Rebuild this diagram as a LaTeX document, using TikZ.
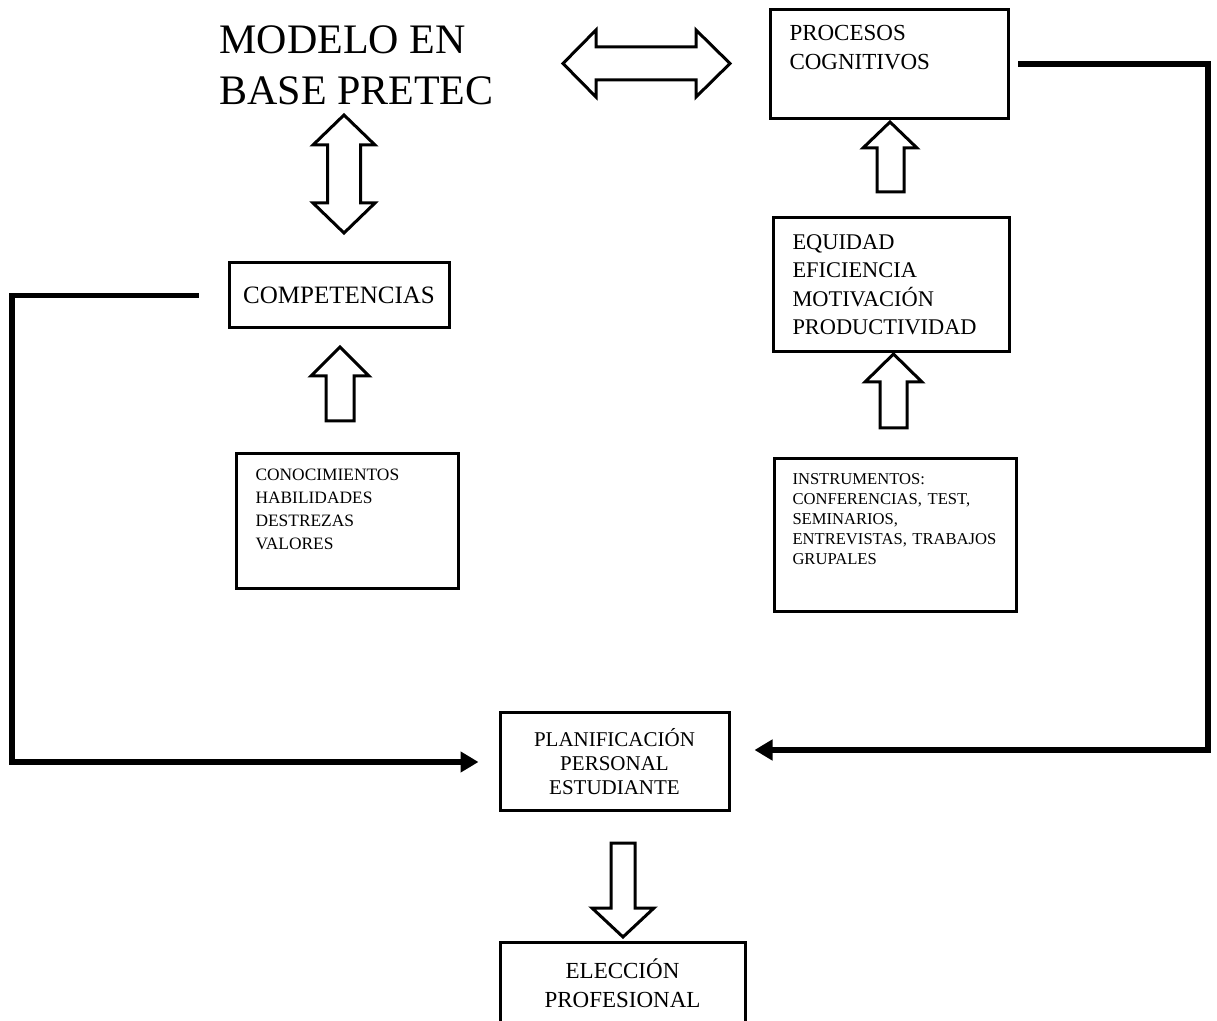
\documentclass[tikz,border=0pt]{standalone}
\usepackage{fontspec}
\setmainfont{Liberation Serif}
\usetikzlibrary{arrows.meta}

\tikzset{
	box/.style={draw, line width=1.5pt, inner sep=0pt},
	hollow/.style={draw, fill=white, line width=1.5pt, miter limit=10},
	link/.style={line width=2.8pt, -{Triangle[length=9pt,width=10pt]}},
}

\begin{document}
\begin{tikzpicture}[x=0.5pt, y=-0.5pt]
	\useasboundingbox (0,0) rectangle (1217,1021);
	\clip (0,0) rectangle (1217,1021);

	\node[anchor=north west, inner sep=0pt, align=left, font=\fontsize{21}{25.5}\selectfont] (modelo) at (219,25) {MODELO EN\\BASE PRETEC};

	\node[box, anchor=north west, align=left, text width=100pt, inner xsep=9.5pt, text height=15.5pt, text depth=39pt, font=\fontsize{11.5}{14.5}\selectfont] (procesos) at (769,8) {PROCESOS\\COGNITIVOS};
	\node[box, anchor=north west, align=left, text width=99pt, inner xsep=9.5pt, text height=16pt, text depth=51pt, font=\fontsize{11.2}{14.25}\selectfont] (equidad) at (772,216) {EQUIDAD\\EFICIENCIA\\MOTIVACIÓN\\PRODUCTIVIDAD};
	\node[box, anchor=north west, align=left, text width=103pt, inner xsep=9pt, text height=13pt, text depth=63.5pt, font=\fontsize{8.3}{10}\selectfont] (instrumentos) at (773,457) {INSTRUMENTOS:\\CONFERENCIAS, TEST,\\SEMINARIOS,\\ENTREVISTAS, TRABAJOS\\GRUPALES};
	\node[box, minimum width=110pt, minimum height=32.5pt, font=\fontsize{12.5}{15}\selectfont] (competencias) at (339,295.5) {COMPETENCIAS};
	\node[box, anchor=north west, align=left, text width=92pt, inner xsep=9.5pt, text height=13.5pt, text depth=54pt, font=\fontsize{8.7}{11.5}\selectfont] (conocimientos) at (235,452) {CONOCIMIENTOS\\HABILIDADES\\DESTREZAS\\VALORES};
	\node[box, minimum width=114.5pt, minimum height=49pt, align=center, font=\fontsize{10.5}{12}\selectfont] (planificacion) at (614.5,762) {PLANIFICACIÓN\\PERSONAL\\ESTUDIANTE};
	\node[box, minimum width=122.5pt, minimum height=41pt, align=center, font=\fontsize{11.5}{14.5}\selectfont] (eleccion) at (622.5,983) {ELECCIÓN\\PROFESIONAL};

	\coordinate (rcorner) at (1208,750);
	\coordinate (lcorner) at (12,762);
	\draw[link] ([xshift=4pt]procesos.east) -| (rcorner) -- ([xshift=12pt,yshift=6pt]planificacion.east);
	\draw[link] ([xshift=-14.5pt]competencias.west) -| (lcorner) -- ([xshift=-10pt]planificacion.west);

	\draw[hollow] (563,63.5) -- (596,30) -- (596,47) -- (696,47) -- (696,30) -- (730,63.5) -- (696,97) -- (696,80) -- (596,80) -- (596,97) -- cycle;
	\draw[hollow] (344,115) -- (375,145) -- (360.5,145) -- (360.5,203) -- (375,203) -- (344,233) -- (313,203) -- (327.5,203) -- (327.5,145) -- (313,145) -- cycle;
	\draw[hollow] (340,347) -- (369,376) -- (354,376) -- (354,421) -- (326,421) -- (326,376) -- (311,376) -- cycle;
	\draw[hollow] (890,122) -- (917,148) -- (904,148) -- (904,192) -- (877,192) -- (877,148) -- (863,148) -- cycle;
	\draw[hollow] (893.5,354) -- (922,382) -- (907,382) -- (907,428) -- (880,428) -- (880,382) -- (865,382) -- cycle;
	\draw[hollow] (611,843) -- (635,843) -- (635,908) -- (654,908) -- (623,937) -- (592,908) -- (611,908) -- cycle;
\end{tikzpicture}
\end{document}
